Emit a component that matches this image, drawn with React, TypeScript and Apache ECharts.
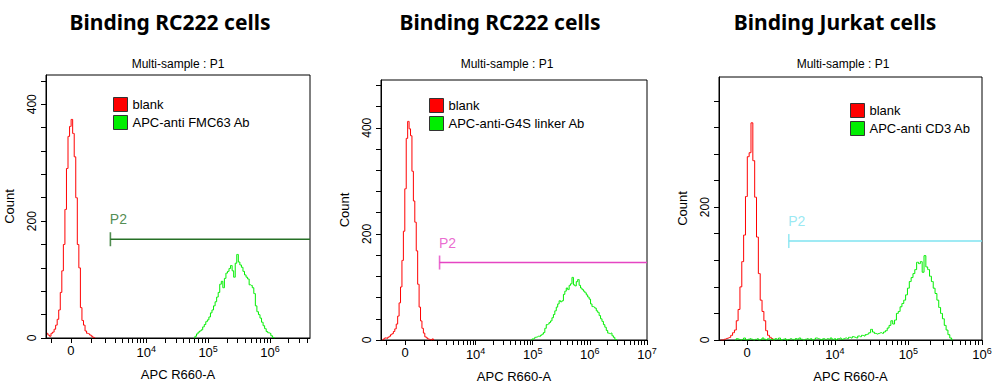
import React, { useEffect, useRef } from 'react';
import * as echarts from 'echarts';

// ---------- texts ----------
const TITLES = ['Binding RC222 cells', 'Binding RC222 cells', 'Binding Jurkat cells'];
const SUBTITLE = 'Multi-sample : P1';
const X_NAME = 'APC R660-A';
const Y_NAME = 'Count';
const LEGEND_BLANK = 'blank';
const LEGEND_AB = ['APC-anti FMC63 Ab', 'APC-anti-G4S linker Ab', 'APC-anti CD3 Ab'];
const GATE_NAME = 'P2';

// ---------- histogram data (counts per display bin, bins in decades of the biexponential scale) ----------
const BIN = 0.025;
const P1_BLANK_START = 2.4;
const P1_BLANK = [8, 5, 3, 8, 10, 15, 22, 32, 48, 78, 115, 160, 220, 290, 345, 362, 374, 350, 310, 240, 160, 120, 52, 30, 22, 12, 8, 7, 5, 3, 1, 0];
const P1_AB_START = 4.775;
const P1_AB = [0, 3, 7, 10, 12, 14, 19, 23, 28, 31, 36, 43, 48, 55, 62, 70, 78, 92, 97, 86, 102, 111, 114, 119, 124, 115, 104, 128, 143, 130, 125, 121, 114, 108, 104, 101, 91, 90, 86, 76, 55, 45, 40, 34, 27, 21, 16, 11, 9, 8, 4, 1, 0];
const P2_BLANK_START = 2.375;
const P2_BLANK = [0, 2, 4, 3, 5, 7, 10, 12, 16, 21, 30, 45, 70, 100, 150, 205, 285, 380, 412, 398, 385, 318, 262, 222, 168, 105, 62, 36, 22, 13, 6, 4, 2, 1, 0, 2, 0];
const P2_AB_START = 4.975;
const P2_AB = [0, 2, 3, 5, 6, 7, 7, 9, 11, 14, 22, 29, 30, 33, 36, 42, 48, 55, 62, 68, 74, 72, 74, 86, 92, 98, 95, 103, 106, 118, 104, 102, 110, 114, 103, 98, 95, 92, 89, 85, 81, 77, 68, 63, 62, 60, 55, 52, 46, 40, 35, 29, 24, 18, 13, 12, 13, 8, 5, 1, 0];
const P3_BLANK_START = 2.45;
const P3_BLANK = [0, 0, 1, 2, 3, 4, 7, 11, 15, 29, 46, 80, 118, 158, 216, 276, 282, 327, 270, 215, 155, 100, 60, 43, 29, 14, 7, 4, 2, 0];
const P3_AB_START = 2.65;
const P3_AB = [
  0, 2, 1, 0, 1, 3, 0, 1, 2, 1,
  0, 1, 2, 0, 1, 3, 1, 0, 2, 1,
  1, 0, 2, 1, 3, 0, 1, 2, 0, 1,
  2, 1, 0, 2, 1, 3, 1, 0, 1, 2,
  1, 2, 0, 1, 3, 2, 1, 0, 2, 1,
  2, 1, 3, 1, 2, 0, 2, 3, 1, 2,
  3, 2, 4, 3, 5, 4, 3, 6, 5, 7,
  6, 8, 9, 11, 16, 12, 10, 9, 10, 11,
  10, 12, 14, 18, 22, 29, 24, 30, 40, 43,
  50, 55, 60, 68, 78, 88, 94, 100, 106, 117,
  115, 118, 102, 127, 110, 106, 96, 88, 78, 70,
  60, 49, 40, 32, 22, 15, 8, 3, 0,
];

const BLANK_DATA = [
  [P1_BLANK_START, P1_BLANK],
  [P2_BLANK_START, P2_BLANK],
  [P3_BLANK_START, P3_BLANK],
] as const;
const AB_DATA = [
  [P1_AB_START, P1_AB],
  [P2_AB_START, P2_AB],
  [P3_AB_START, P3_AB],
] as const;

// ---------- axes ----------
const Y_MAX = [450, 490, 396];
const Y_TICK_STEP = 40;
const Y_LABELS = [[0, 200, 400], [0, 200, 400], [0, 200]];
const X_MIN = [2.382, 2.346, 2.428];
const X_MAX = [6.645, 7.0, 6.0];
const X_ZERO = [2.785, 2.77, 2.81]; // display position of value 0 (biexponential width = 10^X_ZERO)
const X_LABEL_VALUES = [[0, 1e4, 1e5, 1e6], [0, 1e4, 1e5, 1e6, 1e7], [0, 1e4, 1e5, 1e6]];

// ---------- gates ----------
const GATE_START = [2500, 2200, 2200];
const GATE_LEVEL = [169, 146, 149];
const GATE_COLORS = ['#267026', '#e545c3', '#7fe3f0'];

// ---------- layout ----------
const GRIDS = [
  { left: 46, top: 75, width: 264, height: 263 },
  { left: 381, top: 80, width: 266, height: 261 },
  { left: 719, top: 77, width: 263, height: 267 },
];
const TITLE_X = [170, 500, 835];
const SUB_X = [178, 507, 843];
const LEGEND_POS = [[113, 97], [429, 98], [850, 103]];
const FONT = '"Liberation Sans", Arial, sans-serif';
const RED = '#ff0000';
const GREEN = '#00ee00';

function T(v: number, i: number) {
  const W = Math.pow(10, X_ZERO[i]);
  const t = Math.asinh(v / (2 * W)) / Math.LN10 + X_ZERO[i];
  return Math.min(Math.max(t, X_MIN[i]), X_MAX[i] + 0.02);
}

function tickValues(i: number) {
  const vals: number[] = [-1000, 0];
  for (let k = 1; k <= 9; k++) vals.push(k * 1000);
  for (let d = 4; d <= 7; d++) for (let k = 1; k <= 9; k++) vals.push(k * Math.pow(10, d));
  return vals
    .map((v) => T(v, i))
    .filter((t) => t > X_MIN[i] + 0.01 && t <= X_MAX[i] + 0.01)
    .map((t) => Math.min(t, X_MAX[i]));
}

function hist(start: number, counts: readonly number[]) {
  return counts.map((c, k) => [start + k * BIN, c]);
}

export default function App() {
  const ref = useRef<HTMLDivElement>(null);
  useEffect(() => {
    if (!ref.current) return;
    const chart = echarts.init(ref.current, null, { renderer: 'svg' });
    const idx = [0, 1, 2];
    const series: any[] = [];
    idx.forEach((i) => {
      series.push({
        type: 'line', name: LEGEND_BLANK, xAxisIndex: i, yAxisIndex: i,
        data: hist(BLANK_DATA[i][0], BLANK_DATA[i][1]), color: RED,
        showSymbol: false, step: 'middle', lineStyle: { width: 1, color: RED }, silent: true,
      });
      series.push({
        type: 'line', name: LEGEND_AB[i], xAxisIndex: i, yAxisIndex: i,
        data: hist(AB_DATA[i][0], AB_DATA[i][1]), color: GREEN,
        showSymbol: false, step: 'middle', lineStyle: { width: 1, color: GREEN }, silent: true,
      });
      const g = T(GATE_START[i], i);
      series.push({
        type: 'line', name: 'gate' + i, xAxisIndex: i, yAxisIndex: i,
        data: [[g, GATE_LEVEL[i]], [X_MAX[i], GATE_LEVEL[i]]], color: GATE_COLORS[i],
        showSymbol: false, lineStyle: { width: 1.5, color: GATE_COLORS[i] }, silent: true,
      });
      series.push({
        type: 'scatter', name: 'gateTick' + i, xAxisIndex: i, yAxisIndex: i,
        data: [[g, GATE_LEVEL[i]]], symbol: 'rect', symbolSize: [1.6, 14],
        itemStyle: { color: GATE_COLORS[i] }, silent: true,
        label: {
          show: true, formatter: GATE_NAME, position: 'top', offset: [8, -1],
          color: GATE_COLORS[i], fontSize: 14, fontFamily: FONT,
        },
      });
    });

    const graphic: any[] = [];
    idx.forEach((i) => {
      graphic.push({
        type: 'text', x: TITLE_X[i], y: 22,
        style: { text: TITLES[i], fill: '#000', font: `bold 21px "Noto Sans", sans-serif`, align: 'center', verticalAlign: 'middle' },
      });
      graphic.push({
        type: 'text', x: SUB_X[i], y: 64,
        style: { text: SUBTITLE, fill: '#000', font: `12px ${FONT}`, align: 'center', verticalAlign: 'middle' },
      });
    });

    chart.setOption({
      animation: false,
      backgroundColor: '#fff',
      grid: GRIDS.map((g) => ({ ...g, show: true, borderColor: '#000', borderWidth: 1, backgroundColor: 'transparent' })),
      xAxis: idx.map((i) => {
        const labelVals = X_LABEL_VALUES[i].map((v) => Math.min(T(v, i), X_MAX[i]));
        return {
          type: 'value', gridIndex: i, min: X_MIN[i], max: X_MAX[i],
          axisLine: { show: true, lineStyle: { color: '#000', width: 1 } },
          axisTick: { show: true, customValues: tickValues(i), length: 5, lineStyle: { color: '#000' } },
          splitLine: { show: false },
          axisLabel: {
            customValues: labelVals, margin: 6, color: '#000', fontFamily: FONT, fontSize: 13,
            showMaxLabel: true, showMinLabel: true,
            formatter: (v: number) => {
              let best = 0;
              labelVals.forEach((t, k) => { if (Math.abs(t - v) < Math.abs(labelVals[best] - v)) best = k; });
              const real = X_LABEL_VALUES[i][best];
              if (real === 0) return '{b|0}';
              return `{b|10}{s|${Math.round(Math.log10(real))}}`;
            },
            rich: {
              b: { fontSize: 13, color: '#000', fontFamily: FONT },
              s: { fontSize: 9, color: '#000', fontFamily: FONT, padding: [0, 0, 8, 0] },
            },
          },
          name: X_NAME, nameLocation: 'middle', nameGap: 30,
          nameTextStyle: { color: '#000', fontSize: 13, fontFamily: FONT },
        };
      }),
      yAxis: idx.map((i) => {
        const ticks: number[] = [];
        for (let v = 0; v <= Y_MAX[i]; v += Y_TICK_STEP) ticks.push(v);
        return {
          type: 'value', gridIndex: i, min: 0, max: Y_MAX[i],
          axisLine: { show: true, lineStyle: { color: '#000', width: 1 } },
          axisTick: { show: true, customValues: ticks, length: 5, lineStyle: { color: '#000' } },
          splitLine: { show: false },
          axisLabel: { customValues: Y_LABELS[i], rotate: 90, margin: 8, color: '#000', fontFamily: FONT, fontSize: 12 },
          name: Y_NAME, nameLocation: 'middle', nameGap: 30,
          nameTextStyle: { color: '#000', fontSize: 13, fontFamily: FONT },
        };
      }),
      legend: idx.map((i) => ({
        orient: 'vertical', left: LEGEND_POS[i][0], top: LEGEND_POS[i][1], padding: 0,
        itemWidth: 14, itemHeight: 14, itemGap: 3, icon: 'rect', selectedMode: false,
        data: [LEGEND_BLANK, LEGEND_AB[i]],
        itemStyle: { borderColor: '#333', borderWidth: 1 },
        textStyle: { color: '#000', fontSize: 13, fontFamily: FONT },
      })),
      graphic,
      series,
    });
    return () => chart.dispose();
  }, []);
  return <div ref={ref} style={{ position: 'absolute', left: 0, top: 0, width: 1000, height: 388 }} />;
}
